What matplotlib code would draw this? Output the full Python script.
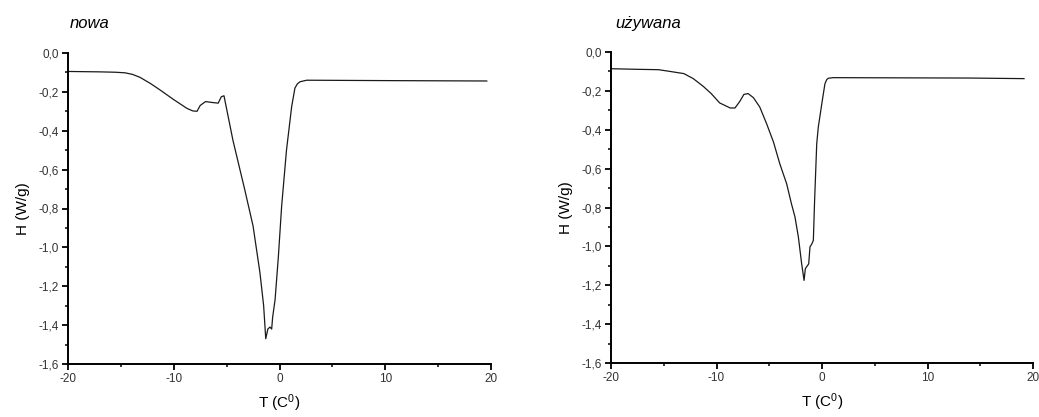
import matplotlib

matplotlib.use("Agg")
import matplotlib.pyplot as plt
from matplotlib.ticker import MultipleLocator, FixedLocator, FixedFormatter

plt.rcParams["font.family"] = ["Liberation Sans", "DejaVu Sans"]
plt.rcParams["mathtext.fontset"] = "custom"
plt.rcParams["mathtext.rm"] = "Liberation Sans"
plt.rcParams["mathtext.it"] = "Liberation Sans:italic"

# DSC curves: temperature (C) and heat flow (W/g)
nowa_T = [-20.0, -17.0, -15.5, -14.6, -13.9, -13.2, -12.2, -11.3, -10.0, -8.75,
          -8.2, -7.8, -7.5, -7.0, -6.3, -5.8, -5.5, -5.25, -4.4, -3.3,
          -2.5, -1.85, -1.5, -1.3, -1.1, -0.9, -0.74, -0.65, -0.42, -0.11,
          0.2, 0.66, 1.15, 1.46, 1.7, 1.94, 2.57, 10.0, 19.6]
nowa_H = [-0.095, -0.097, -0.099, -0.102, -0.11, -0.125, -0.157, -0.19, -0.24, -0.285,
          -0.298, -0.30, -0.27, -0.25, -0.255, -0.258, -0.225, -0.22, -0.45, -0.70,
          -0.89, -1.13, -1.30, -1.47, -1.42, -1.41, -1.42, -1.36, -1.27, -1.05,
          -0.79, -0.50, -0.276, -0.18, -0.158, -0.148, -0.14, -0.142, -0.144]

uzywana_T = [-20.0, -17.6, -15.5, -14.4, -13.1, -12.2, -11.25, -10.5, -9.7, -8.7,
             -8.25, -7.8, -7.4, -7.0, -6.5, -5.9, -5.25, -4.6, -4.0, -3.35,
             -2.9, -2.56, -2.24, -1.93, -1.7, -1.58, -1.39, -1.26, -1.14, -0.95,
             -0.82, -0.7, -0.5, -0.35, 0.03, 0.28, 0.45, 0.6, 1.07, 14.0, 19.15]
uzywana_H = [-0.086, -0.089, -0.091, -0.10, -0.111, -0.137, -0.177, -0.214, -0.262, -0.288,
             -0.288, -0.255, -0.218, -0.214, -0.235, -0.283, -0.369, -0.463, -0.575, -0.678,
             -0.78, -0.849, -0.952, -1.089, -1.175, -1.115, -1.10, -1.09, -1.003, -0.986,
             -0.969, -0.763, -0.472, -0.386, -0.249, -0.163, -0.142, -0.135, -0.132, -0.134, -0.137]

y_ticks = [0.0, -0.2, -0.4, -0.6, -0.8, -1.0, -1.2, -1.4, -1.6]
y_labels = ["0,0", "-0,2", "-0,4", "-0,6", "-0,8", "-1,0", "-1,2", "-1,4", "-1,6"]
x_ticks = [-20, -10, 0, 10, 20]
x_labels = ["-20", "-10", "0", "10", "20"]

W, H = 1039, 417
fig = plt.figure(figsize=(W / 100, H / 100), dpi=100)

panels = [
    ("nowa", nowa_T, nowa_H, (68, 53, 491, 364), 70),
    ("używana", uzywana_T, uzywana_H, (611, 52, 1033, 363), 615),
]

for title, T, Hf, (x0, y0, x1, y1), tx in panels:
    ax = fig.add_axes([x0 / W, 1 - y1 / H, (x1 - x0) / W, (y1 - y0) / H])
    ax.plot(T, Hf, color="#1a1a1a", lw=0.9)
    ax.set_xlim(-20, 20)
    ax.set_ylim(-1.6, 0.0)
    for side in ("top", "right"):
        ax.spines[side].set_visible(False)
    for side in ("left", "bottom"):
        ax.spines[side].set_linewidth(1.4)
    ax.yaxis.set_major_locator(FixedLocator(y_ticks))
    ax.yaxis.set_major_formatter(FixedFormatter(y_labels))
    ax.yaxis.set_minor_locator(MultipleLocator(0.1))
    ax.xaxis.set_major_locator(FixedLocator(x_ticks))
    ax.xaxis.set_major_formatter(FixedFormatter(x_labels))
    ax.xaxis.set_minor_locator(MultipleLocator(5))
    ax.tick_params(which="major", direction="out", length=4, width=1.3,
                   labelsize=8.5, labelcolor="#333333", pad=2.5)
    ax.tick_params(which="minor", direction="out", length=2.5, width=1.1)
    ax.set_xlabel("T (C$^{0}$)", fontsize=11, labelpad=5)
    ax.set_ylabel("H (W/g)", fontsize=11, labelpad=6)
    fig.text(tx / W, 1 - 28 / H, title, fontsize=12, style="italic", va="baseline")

fig.savefig("out.png", dpi=100)
